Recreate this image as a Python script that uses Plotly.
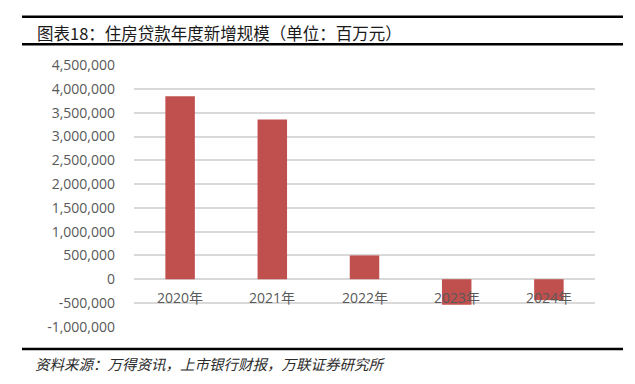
import plotly.graph_objects as go

categories = ["2020年", "2021年", "2022年", "2023年", "2024年"]
values = [3850000, 3360000, 500000, -537000, -440000]
tick_vals = [-1000000, -500000, 0, 500000, 1000000, 1500000, 2000000, 2500000,
             3000000, 3500000, 4000000, 4500000]
tick_text = ["-1,000,000", "-500,000", "0", "500,000", "1,000,000", "1,500,000",
             "2,000,000", "2,500,000", "3,000,000", "3,500,000", "4,000,000", "4,500,000"]
title_text = "图表18：住房贷款年度新增规模（单位：百万元）"
source_text = "资料来源：万得资讯，上市银行财报，万联证券研究所"

OFF = 8  # page body margin
W, H = 635 - OFF, 384 - OFF
L, T = 134 - OFF, 65 - OFF
pw, ph = 461, 262
R, B = W - L - pw, H - T - ph

def px(x):
    return (x - OFF - L) / pw

def py(y):
    return (T + ph - (y - OFF)) / ph

fig = go.Figure()
fig.add_trace(go.Bar(x=categories, y=values, marker=dict(color="#C0504D", line=dict(width=0)),
                     width=0.32, showlegend=False))

for c in categories:
    fig.add_annotation(x=c, y=0, xref="x", yref="y", text=c, showarrow=False,
                       yanchor="top", yshift=-7,
                       font=dict(family="Open Sans, Noto Sans CJK SC", size=14, color="#595959"))

fig.add_annotation(x=px(35), y=py(33), xref="paper", yref="paper", text=title_text,
                   showarrow=False, xanchor="left", yanchor="middle",
                   font=dict(family="Noto Sans CJK SC", size=16.5, color="#1a1a1a", weight="normal"))
fig.add_annotation(x=px(33), y=py(363), xref="paper", yref="paper",
                   text="<i>" + source_text + "</i>",
                   showarrow=False, xanchor="left", yanchor="middle",
                   font=dict(family="Noto Sans CJK SC", size=14.5, color="#2a2a2a"))

for yy, w in [(16.7, 2.5), (44.3, 2.5), (349, 2.5)]:
    fig.add_shape(type="line", xref="paper", yref="paper", x0=px(22), x1=px(623),
                  y0=py(yy), y1=py(yy), line=dict(color="#000000", width=w))

fig.update_layout(
    width=W, height=H, margin=dict(l=L, r=R, t=T, b=B, autoexpand=False),
    paper_bgcolor="white", plot_bgcolor="white", bargap=0.68,
    xaxis=dict(showticklabels=False, showgrid=False, showline=False, zeroline=False,
               ticks="", range=[-0.5, 4.5]),
    yaxis=dict(range=[-1005000, 4505000], tickvals=tick_vals, ticktext=tick_text,
               showgrid=True, gridcolor="#d9d9d9", gridwidth=1.5,
               zeroline=True, zerolinecolor="#d9d9d9", zerolinewidth=1.5,
               showline=False, ticks="", ticklabelstandoff=18,
               tickfont=dict(family="Open Sans", size=14, color="#595959")),
)

fig.write_html("out.html")
